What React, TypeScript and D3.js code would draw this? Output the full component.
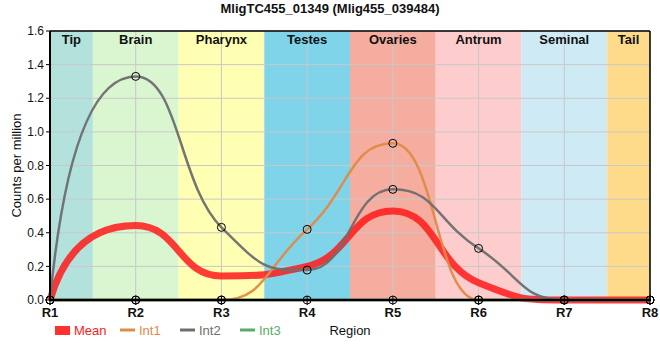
import React from "react";
import * as d3 from "d3";

const categories = ["R1", "R2", "R3", "R4", "R5", "R6", "R7", "R8"];
const regionNames = ["Tip", "Brain", "Pharynx", "Testes", "Ovaries", "Antrum", "Seminal", "Tail"];
const regionColors = ["#b3e2dd", "#d9f6d0", "#ffffb4", "#7fd4ea", "#f5ad9f", "#fdcccc", "#ceebf5", "#fddb8b"];
const meanValues = [0, 0.443, 0.143, 0.2, 0.53, 0.103, 0, 0];
const int1Values = [0, 0, 0, 0.42, 0.932, 0, 0, 0];
const int2Values = [0, 1.33, 0.432, 0.178, 0.658, 0.307, 0, 0];
const int3Values = [0, 0, 0, 0, 0, 0, 0, 0];
const yTicks = [0, 0.2, 0.4, 0.6, 0.8, 1.0, 1.2, 1.4, 1.6];
const seriesNames = ["Mean", "Int1", "Int2", "Int3"];
const seriesColors = ["#ff1a1a", "#e08a48", "#6e6e6e", "#5aab6a"];
const titleText = "MligTC455_01349 (Mlig455_039484)";
const yTitle = "Counts per million";
const xTitle = "Region";

const W = 660, H = 360;
const left = 50, right = 650, top = 31, bottom = 300;
const FONT = "Arial, 'Liberation Sans', sans-serif";

// Bezier curve with flat tangents at extrema and long handles
function smoothCurve(context: any) {
  let xs: number[] = [];
  let ys: number[] = [];
  const HF = 0.5;
  return {
    areaStart() {},
    areaEnd() {},
    lineStart() { xs = []; ys = []; },
    point(x: number, y: number) { xs.push(+x); ys.push(+y); },
    lineEnd() {
      const n = xs.length;
      if (!n) return;
      context.moveTo(xs[0], ys[0]);
      if (n === 1) return;
      if (n === 2) { context.lineTo(xs[1], ys[1]); return; }
      const m = new Array(n).fill(0);
      for (let i = 1; i < n - 1; i++) {
        const h0 = xs[i] - xs[i - 1], h1 = xs[i + 1] - xs[i];
        const s0 = (ys[i] - ys[i - 1]) / h0, s1 = (ys[i + 1] - ys[i]) / h1;
        if (s0 * s1 <= 0) m[i] = 0;
        else {
          const p = (s0 * h1 + s1 * h0) / (h0 + h1);
          m[i] = (Math.sign(s0) + Math.sign(s1)) * Math.min(Math.abs(s0), Math.abs(s1), 0.5 * Math.abs(p));
        }
      }
      for (let i = 0; i < n - 1; i++) {
        const h = xs[i + 1] - xs[i];
        let c1x: number, c1y: number, c2x: number, c2y: number;
        if (i === 0) {
          const qx = xs[1] - 1.5 * HF * h, qy = ys[1] - 1.5 * HF * h * m[1];
          c1x = xs[0] + (2 / 3) * (qx - xs[0]);
          c1y = ys[0] + (2 / 3) * (qy - ys[0]);
        } else {
          c1x = xs[i] + HF * h;
          c1y = ys[i] + HF * h * m[i];
        }
        if (i === n - 2) {
          const qx = xs[i] + 1.5 * HF * h, qy = ys[i] + 1.5 * HF * h * m[i];
          c2x = xs[i + 1] + (2 / 3) * (qx - xs[i + 1]);
          c2y = ys[i + 1] + (2 / 3) * (qy - ys[i + 1]);
        } else {
          c2x = xs[i + 1] - HF * h;
          c2y = ys[i + 1] - HF * h * m[i + 1];
        }
        context.bezierCurveTo(c1x, c1y, c2x, c2y, xs[i + 1], ys[i + 1]);
      }
    },
  };
}

export default function App() {
  const x = d3.scalePoint<string>().domain(categories).range([left, right]);
  const y = d3.scaleLinear().domain([0, 1.6]).range([bottom, top]);
  const xs = categories.map((c) => x(c) as number);

  const bands = categories.map((c, i) => {
    const x0 = i === 0 ? xs[0] : (xs[i - 1] + xs[i]) / 2;
    const x1 = i === categories.length - 1 ? xs[i] : (xs[i] + xs[i + 1]) / 2;
    return { x0, x1, name: regionNames[i], color: regionColors[i] };
  });

  const line = d3
    .line<number>()
    .x((_, i) => xs[i])
    .y((d) => y(d))
    .curve(smoothCurve as any);

  const series = [meanValues, int1Values, int2Values, int3Values];
  const widths = [7, 2.5, 2.5, 2.5];
  const opac = [0.85, 0.95, 0.95, 0.95];

  const legendX = [55, 120, 180, 240];

  return (
    <svg width={W} height={H} style={{ position: "absolute", left: 0, top: 0, background: "#fff" }} fontFamily={FONT}>
      <rect x={0} y={0} width={W} height={H} fill="#fff" />
      {bands.map((b) => (
        <rect key={b.name} x={b.x0} y={top} width={b.x1 - b.x0} height={bottom - top} fill={b.color} />
      ))}
      {yTicks.map((t) => (
        <line key={"gy" + t} x1={left} x2={right} y1={y(t)} y2={y(t)} stroke="#c8c8c8" strokeWidth={1} />
      ))}
      {categories.map((c) => (
        <line key={"gx" + c} x1={x(c)} x2={x(c)} y1={top} y2={bottom} stroke="#c8c8c8" strokeWidth={1} />
      ))}
      {bands.map((b) => (
        <text key={"bl" + b.name} x={(b.x0 + b.x1) / 2} y={44} textAnchor="middle" fontSize={13} fontWeight="bold" fill="#111">
          {b.name}
        </text>
      ))}
      {series.map((s, k) => (
        <g key={"s" + k}>
          <path d={line(s) || ""} fill="none" stroke={seriesColors[k]} strokeWidth={widths[k]} strokeOpacity={opac[k]} strokeLinecap="butt" />
          {k > 0 &&
            s.map((v, i) => (
              <circle key={i} cx={xs[i]} cy={y(v)} r={4} fill="none" stroke="#000" strokeWidth={1} />
            ))}
        </g>
      ))}
      {/* axes */}
      <line x1={left} x2={right} y1={top} y2={top} stroke="#000" strokeWidth={1.5} />
      <line x1={right} x2={right} y1={top} y2={bottom} stroke="#000" strokeWidth={1.5} />
      <line x1={left} x2={left} y1={top} y2={bottom + 1} stroke="#000" strokeWidth={2} />
      <line x1={left - 1} x2={right + 1} y1={bottom} y2={bottom} stroke="#000" strokeWidth={2.5} />
      {yTicks.map((t) => (
        <g key={"yt" + t}>
          <line x1={left - 4} x2={left} y1={y(t)} y2={y(t)} stroke="#000" strokeWidth={1} />
          <text x={left - 6} y={y(t)} dy="0.35em" textAnchor="end" fontSize={12} fill="#111">
            {t.toFixed(1)}
          </text>
        </g>
      ))}
      {categories.map((c) => (
        <g key={"xt" + c}>
          <line x1={x(c)} x2={x(c)} y1={bottom - 4} y2={bottom + 5} stroke="#000" strokeWidth={1} />
          <text x={x(c)} y={316.5} textAnchor="middle" fontSize={13} fontWeight="bold" fill="#111">
            {c}
          </text>
        </g>
      ))}
      <text x={330} y={13} textAnchor="middle" fontSize={13} fontWeight="bold" fill="#111">
        {titleText}
      </text>
      <text transform={`translate(21,${(top + bottom) / 2}) rotate(-90)`} textAnchor="middle" fontSize={13} fill="#111">
        {yTitle}
      </text>
      <text x={(left + right) / 2} y={335} textAnchor="middle" fontSize={13} fill="#111">
        {xTitle}
      </text>
      {seriesNames.map((nm, k) => (
        <g key={"lg" + nm}>
          {k === 0 ? (
            <rect x={legendX[k]} y={326} width={15} height={9} fill={seriesColors[k]} fillOpacity={0.9} />
          ) : (
            <line x1={legendX[k]} x2={legendX[k] + 15} y1={330} y2={330} stroke={seriesColors[k]} strokeWidth={3} />
          )}
          <text x={legendX[k] + 19} y={335} fontSize={13} fill={seriesColors[k]}>
            {nm}
          </text>
        </g>
      ))}
    </svg>
  );
}
